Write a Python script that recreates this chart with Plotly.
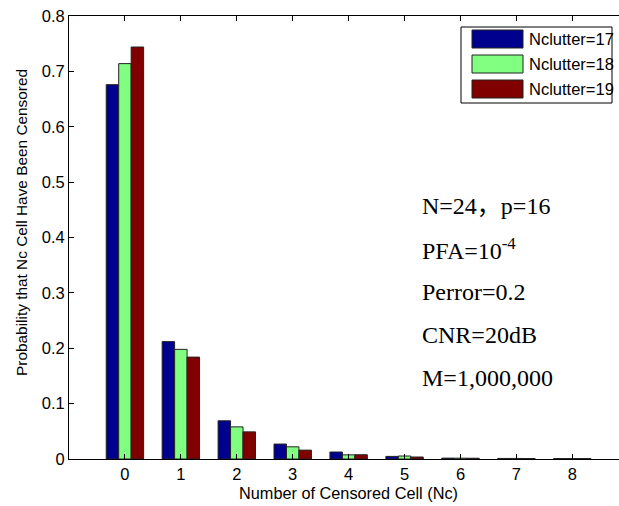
import plotly.graph_objects as go

categories = [0, 1, 2, 3, 4, 5, 6, 7, 8]
series_names = ["Nclutter=17", "Nclutter=18", "Nclutter=19"]
p17 = [0.676, 0.212, 0.069, 0.027, 0.0126, 0.0047, 0.0016, 0.0010, 0.0008]
p18 = [0.714, 0.198, 0.058, 0.022, 0.0075, 0.0054, 0.0015, 0.0010, 0.0008]
p19 = [0.744, 0.184, 0.049, 0.016, 0.0077, 0.0036, 0.0014, 0.0009, 0.0007]
colors = ["#00008F", "#80FF80", "#800000"]
y_ticks = [0, 0.1, 0.2, 0.3, 0.4, 0.5, 0.6, 0.7, 0.8]
y_ticktext = ["0", "0.1", "0.2", "0.3", "0.4", "0.5", "0.6", "0.7", "0.8"]
info_lines = ["N=24，p=16", "PFA=10<sup>-4</sup>", "Perror=0.2", "CNR=20dB", "M=1,000,000"]
x_title = "Number of Censored Cell (Nc)"
y_title = "Probability that Nc Cell Have Been Censored"

fig = go.Figure()
for name, vals, col in zip(series_names, [p17, p18, p19], colors):
    fig.add_trace(go.Bar(x=categories, y=vals, name=name, marker=dict(color=col, line=dict(color="#222222", width=1)),
                         showlegend=False))

W, H = 619, 506
ml, mt, mb, mr = 69, 16, 47, 0
pw, ph = W - ml - mr, H - mt - mb

def px_x(x):
    return (x - ml) / pw

def px_y(y):
    return (H - mb - y) / ph

shapes = []
annotations = []
# legend box
shapes.append(dict(type="rect", xref="paper", yref="paper", x0=px_x(461), x1=px_x(612), y0=px_y(103), y1=px_y(27),
                   line=dict(color="black", width=1), fillcolor="white", layer="above"))
leg_y = [39, 64, 89]
for name, col, yy in zip(series_names, colors, leg_y):
    shapes.append(dict(type="rect", xref="paper", yref="paper", x0=px_x(472), x1=px_x(523), y0=px_y(yy + 9), y1=px_y(yy - 9),
                       line=dict(color="#222222", width=1), fillcolor=col, layer="above"))
    annotations.append(dict(xref="paper", yref="paper", x=px_x(527), y=px_y(yy), text=name, showarrow=False,
                            xanchor="left", yanchor="middle", font=dict(family="Arial, Liberation Sans", size=16.5, color="black")))

info_y = [206, 249, 292, 335, 378]
for t, yy in zip(info_lines, info_y):
    annotations.append(dict(xref="paper", yref="paper", x=px_x(420), y=px_y(yy), text=t, showarrow=False,
                            xanchor="left", yanchor="middle",
                            font=dict(family="Liberation Serif, Times New Roman, Noto Sans CJK SC", size=24, color="black")))

# axis titles
annotations.append(dict(xref="paper", yref="paper", x=px_x(348), y=px_y(493), text=x_title, showarrow=False,
                        xanchor="center", yanchor="middle", font=dict(family="Arial, Liberation Sans", size=16.3, color="black")))
annotations.append(dict(xref="paper", yref="paper", x=px_x(21), y=px_y(223), text=y_title, showarrow=False, textangle=-90,
                        xanchor="center", yanchor="middle", font=dict(family="Arial, Liberation Sans", size=15.4, color="black")))

fig.update_layout(
    width=W, height=H,
    margin=dict(l=ml, r=mr, t=mt, b=mb, pad=0),
    paper_bgcolor="white", plot_bgcolor="white",
    barmode="group", bargap=0.331, bargroupgap=0,
    font=dict(family="Arial, Liberation Sans", size=16, color="black"),
    shapes=shapes, annotations=annotations,
    xaxis=dict(range=[-1, 8.834], tickvals=categories, ticks="inside", ticklen=5, tickcolor="black",
               showline=True, linecolor="black", linewidth=1, mirror="ticks", showgrid=False, zeroline=False,
               tickfont=dict(size=16.5)),
    yaxis=dict(range=[0, 0.8], tickvals=y_ticks, ticktext=y_ticktext, ticks="inside", ticklen=5, tickcolor="black",
               showline=True, linecolor="black", linewidth=1, mirror=False, showgrid=False, zeroline=False,
               tickfont=dict(size=16.5)),
)

fig.write_html("out.html")
